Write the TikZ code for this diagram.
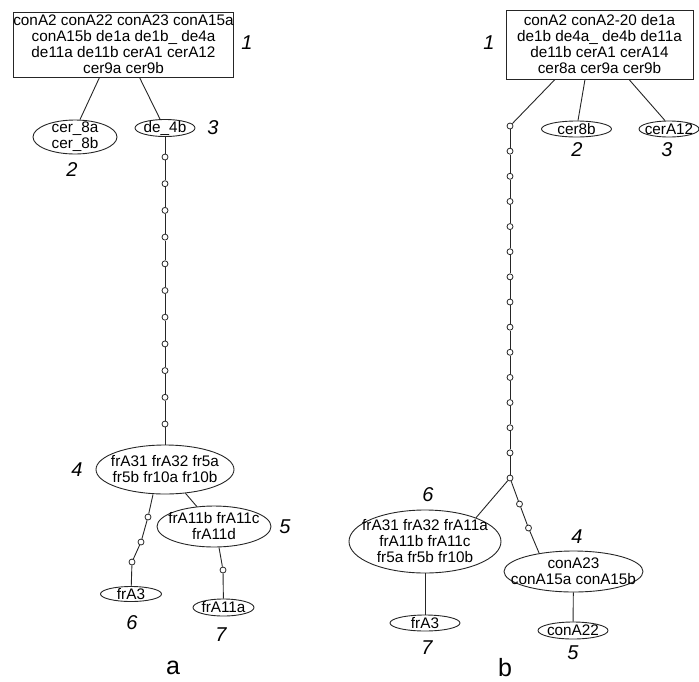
\documentclass[tikz,border=0pt]{standalone}
\usepackage{fontspec}
\setmainfont{Liberation Sans}
\usetikzlibrary{shapes.geometric}
\begin{document}
\begin{tikzpicture}[x=1pt,y=-1pt,
  line width=0.9pt,
  txt/.style={font=\fontsize{15.3}{16}\selectfont, align=center, inner sep=0pt, text=black},
  ell/.style={ellipse, draw=black!85, line width=0.9pt, inner sep=0pt},
  boxnode/.style={rectangle, draw=black!85, line width=0.9pt, inner sep=0pt, font=\fontsize{15.3}{16}\selectfont, align=center},
  dot/.style={circle, draw=black!85, fill=white, minimum size=6pt, inner sep=0pt, line width=0.8pt},
  num/.style={font=\fontsize{20}{20}\selectfont\itshape, inner sep=0pt},
  panelcap/.style={font=\fontsize{25}{25}\selectfont, inner sep=0pt},
  conn/.style={draw=black!85, line width=0.9pt}
]
\useasboundingbox (0,0) rectangle (699,681);

% ---------------- panel a ----------------
\node[boxnode, minimum width=219pt, minimum height=65pt] (lb) at (123.5,44.5)
  {conA2 conA22 conA23 conA15a\\conA15b de1a de1b\_ de4a\\de11a de11b cerA1 cerA12\\cer9a cer9b};
\node[ell, minimum width=84pt, minimum height=34pt, label={[txt]center:{cer\_8a\\cer\_8b}}] (l2) at (75,137) {};
\node[ell, minimum width=60pt, minimum height=17pt, label={[txt]center:{de\_4b}}] (l3) at (165,128) {};
\node[ell, minimum width=138pt, minimum height=49pt, label={[txt]center:{frA31 frA32 fr5a\\fr5b fr10a fr10b}}] (l4) at (165,469.5) {};
\node[ell, minimum width=114pt, minimum height=41pt, label={[txt]center:{frA11b frA11c\\frA11d}}] (l5) at (214,526.5) {};
\node[ell, minimum width=61pt, minimum height=15pt, label={[txt]center:{frA3}}] (l6) at (131,594) {};
\node[ell, minimum width=61pt, minimum height=17pt, label={[txt]center:{frA11a}}] (l7) at (223.5,607.5) {};

\foreach \i in {1,...,11} \node[dot] (ld\i) at (165,{157+26.7*(\i-1)}) {};
\node[dot] (la1) at (148,517) {};
\node[dot] (la2) at (141,542) {};
\node[dot] (la3) at (132,562) {};
\node[dot] (lc1) at (223,570) {};

\draw[conn] ([xshift=-24pt]lb.south) -- ([xshift=5pt]l2.north);
\draw[conn] ([xshift=16pt]lb.south) -- ([xshift=-5pt]l3.north);
\draw[conn] (l3) -- (ld1);
\foreach \i [remember=\i as \pi (initially 1)] in {2,...,11} \draw[conn] (ld\pi) -- (ld\i);
\draw[conn] (ld11) -- (l4);
\draw[conn] (l4) -- (l5);
\draw[conn] ([xshift=-12pt]l4.south) -- (la1) -- (la2) -- (la3) -- (l6);
\draw[conn] ([xshift=5pt]l5.south) -- (lc1) -- (l7);

\node[num] (n1a) at (247,43) {1};
\node[num] (n2a) at (72,170) {2};
\node[num] (n3a) at (213,128) {3};
\node[num] (n4a) at (77,470) {4};
\node[num] (n5a) at (285,527) {5};
\node[num] (n6a) at (132,623) {6};
\node[num] (n7a) at (221,635) {7};
\node[panelcap] (ca) at (173,668) {a};

% ---------------- panel b ----------------
\node[boxnode, minimum width=187pt, minimum height=69pt] (rb) at (599.5,44.5)
  {conA2 conA2-20 de1a\\de1b de4a\_ de4b de11a\\de11b cerA1 cerA14\\cer8a cer9a cer9b};
\node[ell, minimum width=70pt, minimum height=16pt, label={[txt]center:{cer8b}}] (r2) at (576.5,129) {};
\node[ell, minimum width=60pt, minimum height=16pt, label={[txt]center:{cerA12}}] (r3) at (669,129) {};
\node[ell, minimum width=152pt, minimum height=63pt, label={[txt]center:{frA31 frA32 frA11a\\frA11b frA11c\\fr5a fr5b fr10b}}] (r6) at (425,541.5) {};
\node[ell, minimum width=139pt, minimum height=41pt, label={[txt]center:{conA23\\conA15a conA15b}}] (r4) at (573.5,571.5) {};
\node[ell, minimum width=70pt, minimum height=16pt, label={[txt]center:{frA3}}] (r7) at (425,623) {};
\node[ell, minimum width=70pt, minimum height=17pt, label={[txt]center:{conA22}}] (r5) at (573,630.5) {};

\foreach \i in {1,...,15} \node[dot] (rd\i) at (510,{126+25.143*(\i-1)}) {};
\node[dot] (rc1) at (519.5,504) {};
\node[dot] (rc2) at (528.5,528) {};

\draw[conn] ([xshift=-44.5pt]rb.south) -- (rd1);
\draw[conn] ([xshift=-14.5pt]rb.south) -- ([xshift=1.5pt]r2.north);
\draw[conn] ([xshift=29.5pt]rb.south) -- ([xshift=-4pt]r3.north);
\foreach \i [remember=\i as \pi (initially 1)] in {2,...,15} \draw[conn] (rd\pi) -- (rd\i);
\draw[conn] (rd15) -- (r6.25);
\draw[conn] (rd15) -- (rc1) -- (rc2) -- (r4.152);
\draw[conn] (r6) -- (r7);
\draw[conn] (r4) -- (r5);

\node[num] (n1b) at (489,43) {1};
\node[num] (n2b) at (577,150) {2};
\node[num] (n3b) at (667,150) {3};
\node[num] (n6b) at (428,495) {6};
\node[num] (n4b) at (577,537) {4};
\node[num] (n7b) at (427,648) {7};
\node[num] (n5b) at (573,653) {5};
\node[panelcap] (cb) at (505,668) {b};
\end{tikzpicture}
\end{document}
